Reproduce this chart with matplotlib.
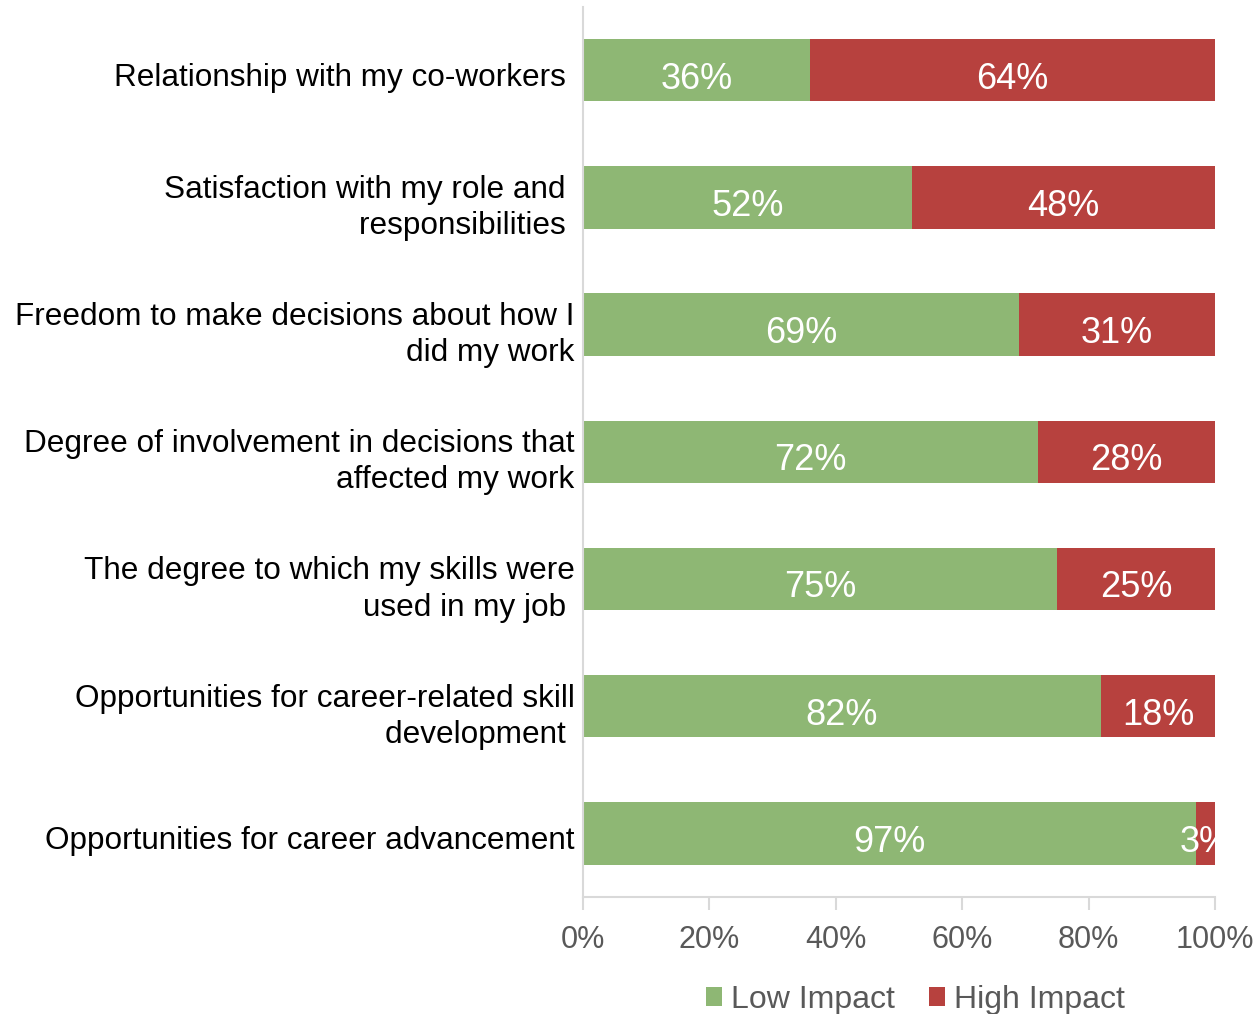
import matplotlib.pyplot as plt
import numpy as np

plt.rcParams["font.family"] = ["Liberation Sans", "DejaVu Sans"]

COLOR_LOW, COLOR_HIGH = "#8EB774", "#B7413E"
GRAY_TEXT, GRAY_LINE = "#595959", "#D9D9D9"

categories = [
    "Relationship with my co-workers ",
    "Satisfaction with my role and \nresponsibilities ",
    "Freedom to make decisions about how I\ndid my work",
    "Degree of involvement in decisions that\naffected my work",
    "The degree to which my skills were\nused in my job ",
    "Opportunities for career-related skill\ndevelopment ",
    "Opportunities for career advancement",
]
low_impact = [36, 52, 69, 72, 75, 82, 97]
high_impact = [64, 48, 31, 28, 25, 18, 3]
x_ticks = [0, 20, 40, 60, 80, 100]

fig = plt.figure(figsize=(12.59, 10.14), dpi=100)
ax = fig.add_axes([0.463, 0.1154, 0.502, 0.878])

y = np.arange(len(categories))
h = 0.49
ax.barh(y, low_impact, height=h, color=COLOR_LOW, label="Low Impact")
ax.barh(y, high_impact, left=low_impact, height=h, color=COLOR_HIGH, label="High Impact")

# percentage labels in the middle of each segment (the 3% one gets clipped at the axes edge)
for i, (lo, hi) in enumerate(zip(low_impact, high_impact)):
    ax.text(lo / 2, i + 0.07, f"{lo}%", ha="center", va="center",
            color="white", fontsize=26, clip_on=True)
    ax.text(lo + hi / 2, i + 0.07, f"{hi}%", ha="center", va="center",
            color="white", fontsize=26, clip_on=True)

ax.set_xlim(0, 100)
ax.set_ylim(len(categories) - 0.5, -0.5)
ax.set_xticks(x_ticks)
ax.set_xticklabels([f"{t}%" for t in x_ticks])
ax.set_yticks(y + 0.03)
ax.set_yticklabels(categories, fontsize=22.7, ha="right", multialignment="right",
                   linespacing=1.27)

ax.tick_params(axis="x", colors=GRAY_LINE, labelcolor=GRAY_TEXT, labelsize=22,
               length=9, width=1.5, pad=11)
ax.tick_params(axis="y", length=0, pad=6, labelcolor="black")
for side in ("top", "right"):
    ax.spines[side].set_visible(False)
for side in ("left", "bottom"):
    ax.spines[side].set_color(GRAY_LINE)
    ax.spines[side].set_linewidth(1.5)

leg = fig.legend(loc="center", bbox_to_anchor=(0.727, 0.014), ncol=2, frameon=False,
                 fontsize=23, handlelength=0.5, handleheight=0.5,
                 handletextpad=0.3, columnspacing=1.05, borderaxespad=0)
for t in leg.get_texts():
    t.set_color(GRAY_TEXT)

fig.savefig("out.png", dpi=100)
